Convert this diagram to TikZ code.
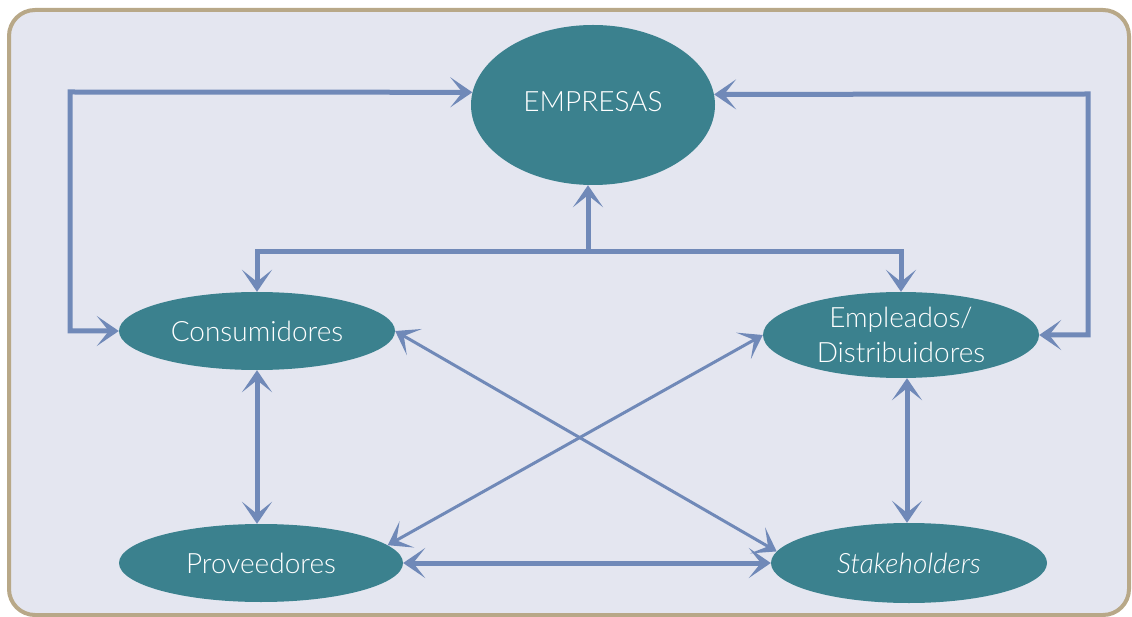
\documentclass[tikz,border=0pt]{standalone}
\usepackage{fontspec}
\setmainfont{Lato Light}[ItalicFont={Lato Light Italic}]
\usetikzlibrary{arrows.meta,shapes.geometric}
\definecolor{panelfill}{HTML}{E4E6F0}
\definecolor{panelrim}{HTML}{B8A888}
\definecolor{teal}{HTML}{3B818E}
\definecolor{link}{HTML}{7089B8}
\tikzset{
  bubble/.style={ellipse, fill=teal, inner sep=0pt, text=white,
    font=\fontsize{28}{35}\selectfont, align=center},
  tip/.tip={Stealth[length=22pt,width=30pt,inset=12pt]},
  thick link/.style={draw=link, line width=5pt},
  thin link/.style={draw=link, line width=3pt},
}
\begin{document}
\begin{tikzpicture}[x=1pt,y=-1pt]
  \useasboundingbox (0,0) rectangle (1132,617);
  % panel
  \draw[fill=panelfill, draw=panelrim, line width=4pt, rounded corners=26pt]
    (9,10) rectangle (1129,615);

  % nodes
  \node[bubble, minimum width=244pt, minimum height=160pt] (emp) at (593,105)
    {\raisebox{7pt}{EMPRESAS}};
  \node[bubble, minimum width=276pt, minimum height=78pt] (cons) at (257,331) {Consumidores};
  \node[bubble, minimum width=276pt, minimum height=86pt] (empl) at (901,335)
    {Empleados/\\Distribuidores};
  \node[bubble, minimum width=284pt, minimum height=78pt] (prov) at (261,563) {Proveedores};
  \node[bubble, minimum width=276pt, minimum height=80pt] (stake) at (909,563) {\itshape Stakeholders};

  % junction points of the orthogonal links
  \coordinate (hub) at (588,252);
  \coordinate (lc) at (70,92);
  \coordinate (rc) at (1088,94);
  \coordinate (rcol) at (907,0);

  % links from and to EMPRESAS
  \draw[thick link, -tip] (hub) -- (hub |- emp.south);
  \draw[thick link, -tip] (hub) -| (cons.north);
  \draw[thick link, -tip] (hub) -| (empl.north);
  \draw[thick link, tip-tip] (emp.174) -- (lc) |- (cons.west);
  \draw[thick link, tip-tip] (emp.5) -- (rc) |- (empl.east);

  % links between the lower groups
  \draw[thick link, tip-tip] (cons.south) -- (cons.south |- prov.north);
  \draw[thick link, tip-tip] (rcol |- stake.north) -- (rcol |- empl.south);
  \draw[thick link, tip-tip] (prov.east) -- (stake.west);
  \draw[thin link, tip-tip] (cons.east) -- (stake.175);
  \draw[thin link, tip-tip] (empl.west) -- (prov.8);
\end{tikzpicture}
\end{document}
